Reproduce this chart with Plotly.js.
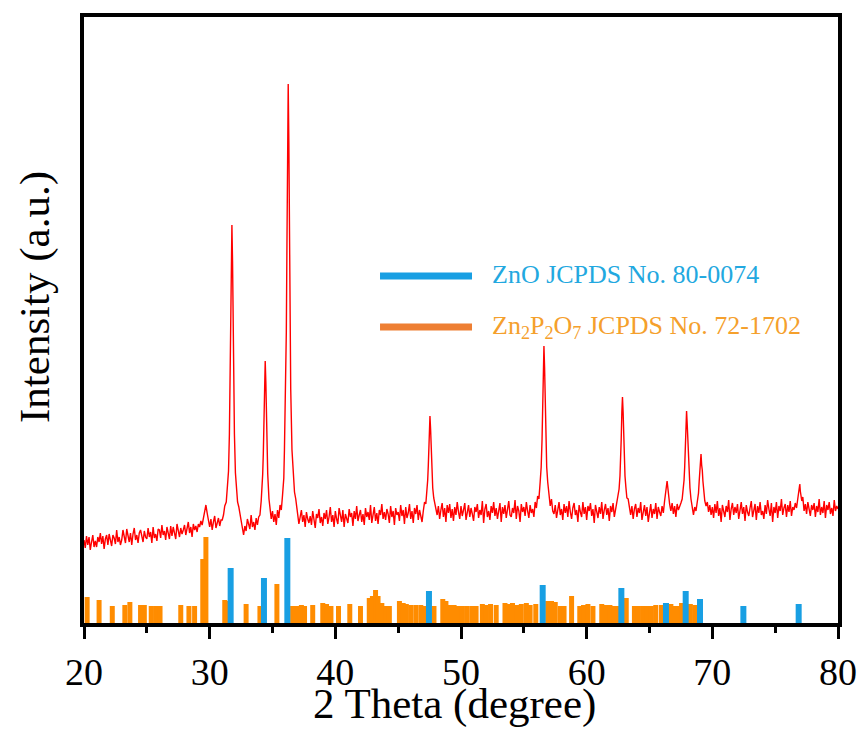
<!DOCTYPE html>
<html>
<head>
<meta charset="utf-8">
<script src="https://cdn.plot.ly/plotly-3.0.1.min.js"></script>
<style>html,body{margin:0;padding:0;background:#fff;}#chart{width:862px;height:729px;}</style>
</head>
<body>
<div id="chart"></div>
<script>
// ---- Measured XRD pattern (2 Theta in degrees, intensity in arbitrary units) ----
const twoTheta = [
  20.0,20.1,20.2,20.3,20.4,20.5,20.6,20.7,20.8,20.9,
  21.0,21.1,21.2,21.3,21.4,21.5,21.6,21.7,21.8,21.9,
  22.0,22.1,22.2,22.3,22.4,22.5,22.6,22.7,22.8,22.9,
  23.0,23.1,23.2,23.3,23.4,23.5,23.6,23.7,23.8,23.9,
  24.0,24.1,24.2,24.3,24.4,24.5,24.6,24.7,24.8,24.9,
  25.0,25.1,25.2,25.3,25.4,25.5,25.6,25.7,25.8,25.9,
  26.0,26.1,26.2,26.3,26.4,26.5,26.6,26.7,26.8,26.9,
  27.0,27.1,27.2,27.3,27.4,27.5,27.6,27.7,27.8,27.9,
  28.0,28.1,28.2,28.3,28.4,28.5,28.6,28.7,28.8,28.9,
  29.0,29.1,29.2,29.3,29.4,29.5,29.6,29.7,29.8,29.9,
  30.0,30.1,30.2,30.3,30.4,30.5,30.6,30.7,30.8,30.9,
  31.0,31.1,31.2,31.32,31.42,31.5,31.57,31.62,31.67,31.72,31.77,31.82,31.87,31.92,31.97,32.05,32.12,32.22,32.32,32.42,
  32.5,32.6,32.7,32.8,32.9,33.0,33.1,33.2,33.3,33.4,33.5,33.6,33.7,33.8,33.9,
  34.0,34.1,34.17,34.22,34.27,34.32,34.37,34.42,34.47,34.52,34.57,34.62,34.72,34.82,34.9,
  35.0,35.1,35.2,35.3,35.4,35.5,
  35.6,35.7,35.8,35.9,35.95,36.05,36.1,36.15,36.2,36.25,36.3,36.35,36.4,36.45,36.55,36.65,36.75,36.85,36.95,
  37.0,37.1,37.2,37.3,37.4,37.5,37.6,37.7,37.8,37.9,
  38.0,38.1,38.2,38.3,38.4,38.5,38.6,38.7,38.8,38.9,
  39.0,39.1,39.2,39.3,39.4,39.5,39.6,39.7,39.8,39.9,
  40.0,40.1,40.2,40.3,40.4,40.5,40.6,40.7,40.8,40.9,
  41.0,41.1,41.2,41.3,41.4,41.5,41.6,41.7,41.8,41.9,
  42.0,42.1,42.2,42.3,42.4,42.5,42.6,42.7,42.8,42.9,
  43.0,43.1,43.2,43.3,43.4,43.5,43.6,43.7,43.8,43.9,
  44.0,44.1,44.2,44.3,44.4,44.5,44.6,44.7,44.8,44.9,
  45.0,45.1,45.2,45.3,45.4,45.5,45.6,45.7,45.8,45.9,
  46.0,46.1,46.2,46.3,46.4,46.5,46.6,46.7,46.8,46.9,
  47.0,47.1,47.2,47.28,47.35,47.4,47.45,47.5,47.53,47.58,47.63,47.68,47.75,47.83,47.93,48.05,
  48.1,48.2,48.3,48.4,48.5,48.6,48.7,48.8,48.9,
  49.0,49.1,49.2,49.3,49.4,49.5,49.6,49.7,49.8,49.9,
  50.0,50.1,50.2,50.3,50.4,50.5,50.6,50.7,50.8,50.9,
  51.0,51.1,51.2,51.3,51.4,51.5,51.6,51.7,51.8,51.9,
  52.0,52.1,52.2,52.3,52.4,52.5,52.6,52.7,52.8,52.9,
  53.0,53.1,53.2,53.3,53.4,53.5,53.6,53.7,53.8,53.9,
  54.0,54.1,54.2,54.3,54.4,54.5,54.6,54.7,54.8,54.9,
  55.0,55.1,55.2,55.3,55.4,55.5,55.6,55.7,55.8,
  55.9,56.0,56.1,56.2,56.3,56.38,56.45,56.5,56.55,56.6,56.65,56.7,56.75,56.82,56.9,57.0,57.1,57.2,57.3,
  57.4,57.5,57.6,57.7,57.8,57.9,
  58.0,58.1,58.2,58.3,58.4,58.5,58.6,58.7,58.8,58.9,
  59.0,59.1,59.2,59.3,59.4,59.5,59.6,59.7,59.8,59.9,
  60.0,60.1,60.2,60.3,60.4,60.5,60.6,60.7,60.8,60.9,
  61.0,61.1,61.2,61.3,61.4,61.5,61.6,61.7,61.8,61.9,
  62.0,62.1,62.2,62.3,
  62.4,62.5,62.58,62.65,62.7,62.75,62.8,62.85,62.9,62.95,63.0,63.05,63.12,63.2,63.3,63.4,
  63.5,63.6,63.7,63.8,63.9,
  64.0,64.1,64.2,64.3,64.4,64.5,64.6,64.7,64.8,64.9,
  65.0,65.1,65.2,65.3,65.4,65.5,65.6,65.7,65.8,65.9,
  66.0,66.1,66.2,66.28,66.34,66.4,66.46,66.52,66.6,66.7,66.8,66.9,67.0,67.1,67.2,67.3,67.4,
  67.5,67.6,67.68,67.75,67.8,67.85,67.9,67.95,68.0,68.05,68.1,68.15,68.22,68.3,68.4,68.5,68.6,68.7,
  68.8,68.9,68.95,69.0,69.05,69.1,69.15,69.2,69.25,69.3,69.4,69.5,69.6,69.7,69.8,69.9,
  70.0,70.1,70.2,70.3,70.4,70.5,70.6,70.7,70.8,70.9,
  71.0,71.1,71.2,71.3,71.4,71.5,71.6,71.7,71.8,71.9,
  72.0,72.1,72.2,72.3,72.4,72.5,72.6,72.7,72.8,72.9,
  73.0,73.1,73.2,73.3,73.4,73.5,73.6,73.7,73.8,73.9,
  74.0,74.1,74.2,74.3,74.4,74.5,74.6,74.7,74.8,74.9,
  75.0,75.1,75.2,75.3,75.4,75.5,75.6,75.7,75.8,75.9,
  76.0,76.1,76.2,76.3,76.4,76.5,76.6,
  76.7,76.8,76.87,76.92,76.96,77.0,77.05,77.12,77.2,77.3,77.4,77.5,77.6,77.7,77.8,77.9,
  78.0,78.1,78.2,78.3,78.4,78.5,78.6,78.7,78.8,78.9,
  79.0,79.1,79.2,79.3,79.4,79.5,79.6,79.7,79.8,79.9,
  80.0
];
const intensity = [
  83,75,87,78,86,73,81,88,76,82,
  76,86,81,90,79,87,74,84,88,78,
  89,82,77,88,85,79,93,81,86,78,
  83,93,88,80,94,85,81,90,78,89,
  95,83,88,80,90,93,85,81,92,86,
  84,95,86,91,80,96,85,89,82,94,
  93,85,98,88,92,83,96,89,84,97,
  87,96,90,84,99,92,86,95,89,93,
  98,88,95,101,90,96,86,99,93,97,
  91,99,96,102,98,106,112,118,110,103,
  96,104,93,101,107,95,100,105,97,103,
  103,108,117,121,138,152,189,234,294,362,398,362,294,234,189,150,137,121,116,108,
  103,95,88,97,92,104,99,94,108,96,101,93,105,98,106,
  108,122,134,149,170,202,241,262,241,202,170,149,124,115,104,
  112,101,109,98,113,105,
  118,113,128,145,173,234,291,378,482,539,482,378,291,234,173,145,131,124,114,
  110,99,106,113,101,108,96,111,104,100,
  107,98,112,103,95,109,105,114,100,106,
  97,110,104,113,99,106,116,101,108,96,
  112,104,99,115,107,101,113,96,109,105,
  100,114,106,110,97,112,104,117,102,108,
  113,101,109,98,115,106,111,103,118,100,
  107,116,102,110,99,113,108,119,104,111,
  103,114,109,100,117,106,112,98,115,108,
  111,102,118,107,113,99,116,105,110,119,
  104,112,100,115,109,118,103,113,107,101,
  112,121,119,131,143,158,181,202,207,194,171,152,135,125,119,113,
  108,117,104,113,120,106,115,101,118,
  110,119,105,114,102,116,108,121,111,104,
  117,107,113,120,103,112,118,106,115,109,
  102,116,111,119,105,113,108,122,100,114,
  119,106,112,103,117,110,121,107,115,104,
  113,120,101,116,109,118,105,114,122,108,
  106,115,110,123,104,117,112,101,119,111,
  116,107,121,112,105,118,110,114,106,
  121,115,127,124,141,156,184,216,256,277,256,216,184,156,141,131,117,124,112,
  109,118,105,116,121,108,
  114,103,119,110,117,106,122,111,104,115,
  120,108,113,101,118,111,106,121,109,116,
  103,117,112,120,107,114,100,118,110,105,
  116,109,121,104,113,119,108,115,102,117,
  111,120,106,114,
  118,129,134,147,162,184,211,226,211,184,162,147,136,125,124,116,
  108,117,104,114,119,
  106,115,110,121,103,113,118,107,116,101,
  112,119,105,114,109,120,104,116,111,107,
  117,110,122,128,136,142,134,126,119,112,120,109,117,106,119,113,118,
  120,124,133,143,156,175,199,212,199,180,168,150,135,124,114,108,116,112,
  121,130,141,152,163,169,158,153,142,131,122,117,121,111,118,108,
  116,105,119,110,122,107,115,101,118,112,
  106,117,111,123,103,114,120,108,116,110,
  119,104,113,121,109,116,102,118,111,107,
  115,122,106,113,119,103,117,110,121,108,
  112,104,118,109,123,114,107,120,101,116,
  110,121,105,117,112,124,108,115,119,106,
  118,111,122,107,116,113,120,
  115,124,130,135,139,132,128,122,126,112,119,109,121,114,107,118,
  113,120,106,117,111,124,108,116,110,122,
  105,118,113,121,109,115,107,123,112,117,
  114
];

// ---- ZnO reference lines (JCPDS No. 80-0074) ----
const znoPos    = [31.67, 34.32, 36.18, 47.45, 56.50, 62.76, 66.31, 67.88, 69.02, 72.47, 76.87];
const znoHeight = [55, 45, 85, 32, 38, 35, 20, 32, 24, 17, 19];

// ---- Zn2P2O7 reference lines (JCPDS No. 72-1702) ----
const znpPos = [
  20.25,21.2,22.25,23.25,23.65,24.5,24.8,25.35,25.7,26.05,27.7,28.35,28.8,29.45,29.7,
  31.2,31.45,32.9,34.0,34.3,35.35,36.6,36.95,37.3,37.55,38.2,39.0,39.3,39.65,40.25,
  41.15,42.0,42.7,42.95,43.2,43.4,43.7,44.0,44.3,45.1,45.4,45.65,46.0,46.4,46.8,47.1,
  47.85,48.55,48.8,49.1,49.45,49.8,50.1,50.45,50.85,51.2,51.7,52.0,52.35,52.8,53.5,53.8,
  54.1,54.45,54.8,55.2,55.5,55.95,56.9,57.2,57.5,57.9,58.2,58.8,59.45,59.75,60.1,60.5,
  61.2,61.5,61.85,62.2,62.5,63.15,63.8,64.1,64.45,64.8,65.15,65.5,65.95,66.7,67.0,67.3,
  67.55,67.95,68.25,68.6
];
const znpHeight = [
  26,23,17,18,21,18,18,17,17,17,18,17,17,64,86,
  23,22,19,17,17,39,17,17,18,17,18,20,19,17,17,
  19,17,25,27,33,27,20,17,17,22,20,19,18,18,18,17,
  17,24,22,18,18,17,17,17,17,17,19,18,19,18,20,19,
  20,18,19,20,18,19,22,22,21,17,17,27,17,18,19,17,
  19,18,18,17,17,25,17,17,17,17,17,18,18,19,17,17,
  20,18,19,18
];

const xTicks = [20, 30, 40, 50, 60, 70, 80];
const seriesNames = ['ZnO JCPDS No. 80-0074', 'Zn<sub>2</sub>P<sub>2</sub>O<sub>7</sub> JCPDS No. 72-1702'];
const axisTitles = {x: '2 Theta (degree)', y: 'Intensity (a.u.)'};

function sticks(pos, h) {
  const x = [], y = [];
  for (let i = 0; i < pos.length; i++) {
    x.push(pos[i], pos[i], null);
    y.push(0, h[i], null);
  }
  return {x, y};
}

const BLUE = '#189fe3', ORANGE = '#ff8c00', RED = '#ff0000';
const FONT = '"Times New Roman", "Liberation Serif", serif';

const s1 = sticks(znpPos, znpHeight);
const s2 = sticks(znoPos, znoHeight);

const traces = [
  {type: 'scatter', mode: 'lines', x: s1.x, y: s1.y, line: {color: ORANGE, width: 5}, hoverinfo: 'skip', name: seriesNames[1], connectgaps: false},
  {type: 'scatter', mode: 'lines', x: s2.x, y: s2.y, line: {color: BLUE, width: 6}, hoverinfo: 'skip', name: seriesNames[0], connectgaps: false},
  {type: 'scatter', mode: 'lines', x: twoTheta, y: intensity, line: {color: RED, width: 1.4}, name: 'sample'}
];

const layout = {
  width: 862, height: 729,
  margin: {l: 84, r: 24, t: 17, b: 106},
  paper_bgcolor: '#fff', plot_bgcolor: '#fff',
  showlegend: false,
  font: {family: FONT, color: '#000'},
  xaxis: {
    range: [20, 80], tickvals: xTicks, ticktext: xTicks.map(String),
    ticks: 'outside', ticklen: 12, tickwidth: 3, tickcolor: '#000',
    minor: {dtick: 5, tick0: 20, ticks: 'outside', ticklen: 6, tickwidth: 3, tickcolor: '#000', showgrid: false},
    showline: true, linewidth: 4, linecolor: '#000', mirror: true,
    showgrid: false, zeroline: false,
    tickfont: {family: FONT, size: 38, color: '#000'}
  },
  yaxis: {
    range: [0, 606], showticklabels: false, ticks: '',
    showline: true, linewidth: 4, linecolor: '#000', mirror: true,
    showgrid: false, zeroline: false
  },
  shapes: [
    {type: 'line', xref: 'paper', yref: 'paper', x0: 0.3926, x1: 0.5146, y0: 0.5726, y1: 0.5726, line: {color: BLUE, width: 7}},
    {type: 'line', xref: 'paper', yref: 'paper', x0: 0.3926, x1: 0.5146, y0: 0.4884, y1: 0.4884, line: {color: '#ee7f33', width: 7}}
  ],
  annotations: [
    {xref: 'paper', yref: 'paper', x: 0.5384, y: 0.5743, xanchor: 'left', yanchor: 'middle', showarrow: false,
     text: seriesNames[0], font: {family: FONT, size: 26, color: '#22a8e0'}},
    {xref: 'paper', yref: 'paper', x: 0.5384, y: 0.4884, xanchor: 'left', yanchor: 'middle', showarrow: false,
     text: seriesNames[1], font: {family: FONT, size: 26, color: '#f5a02c'}},
    {xref: 'paper', yref: 'paper', x: -0.065, y: 0.538, xanchor: 'center', yanchor: 'middle', showarrow: false,
     textangle: -90, text: axisTitles.y, font: {family: FONT, size: 43, color: '#000'}},
    {xref: 'paper', yref: 'paper', x: 0.492, y: -0.177, xanchor: 'center', yanchor: 'bottom', showarrow: false,
     text: axisTitles.x, font: {family: FONT, size: 43, color: '#000'}}
  ]
};

Plotly.newPlot('chart', traces, layout, {displayModeBar: false, staticPlot: true});
</script>
</body>
</html>
